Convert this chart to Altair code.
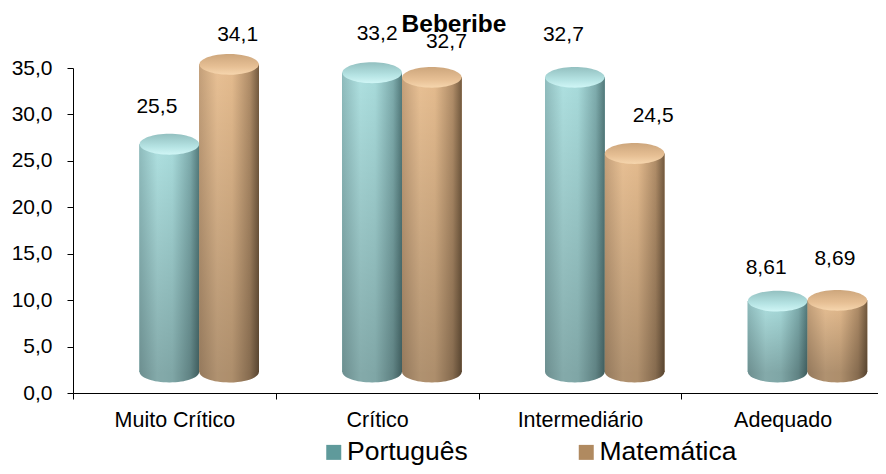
import altair as alt
import pandas as pd

categories = ["Muito Crítico", "Crítico", "Intermediário", "Adequado"]
series = ["Português", "Matemática"]
portugues = [25.5, 33.2, 32.7, 8.61]
matematica = [34.1, 32.7, 24.5, 8.69]
labels_pt = ["25,5", "33,2", "32,7", "8,61"]
labels_mt = ["34,1", "32,7", "24,5", "8,69"]
nudge_pt = [(-12.5, -49), (5, -51), (-11.5, -54), (-11.5, -45)]
nudge_mt = [(8.5, -41), (14.5, -47), (18.5, -49.5), (-2.5, -53)]

rows = []
for i, c in enumerate(categories):
    rows.append(dict(cat=c, s=series[0], v=portugues[i], label=labels_pt[i], base=0))
    rows.append(dict(cat=c, s=series[1], v=matematica[i], label=labels_mt[i], base=0))
df = pd.DataFrame(rows)

FONT = "Liberation Sans"
W, H = 805, 325
BAND_SPAN = 811
RISE = 12
BASE_RISE = 21
ELL = "M-1,0C-1,-0.19,-0.55,-0.35,0,-0.35C0.55,-0.35,1,-0.19,1,0C1,0.19,0.55,0.35,0,0.35C-0.55,0.35,-1,0.19,-1,0Z"


def grad(stops, vertical=False):
    return alt.Gradient(gradient="linear", x1=0, x2=0 if vertical else 1, y1=0, y2=1 if vertical else 0,
                        stops=[alt.GradientStop(offset=o, color=c) for o, c in stops])


sides = {
    "Português": [(0, "#8fbcbd"), (0.3, "#aee0e0"), (0.55, "#a8dbdb"), (0.85, "#7eacad"), (1, "#537a7b")],
    "Matemática": [(0, "#c4a07a"), (0.3, "#e8c094"), (0.55, "#e4bb8e"), (0.85, "#b08d68"), (1, "#735a3f")],
}
tops = {
    "Português": [(0, "#93c0c0"), (0.6, "#b4e2e2"), (1, "#d0f6f6")],
    "Matemática": [(0, "#cda67c"), (0.6, "#e6bf94"), (1, "#f6d6ae")],
}
shade = grad([(0, "rgba(0,0,0,0)"), (1, "rgba(0,0,0,0.24)")], vertical=True)

x = alt.X("cat:N", sort=categories, title=None,
          scale=alt.Scale(paddingInner=0, paddingOuter=0, range=[0, BAND_SPAN]),
          axis=alt.Axis(labelAngle=0, labelFont=FONT, labelFontSize=21.5, labelColor="#000",
                        domainColor="#000", tickColor="#000", tickBand="extent", tickSize=6,
                        labelPadding=10, grid=False))
xo = alt.XOffset("s:N", sort=series,
                 scale=alt.Scale(domain=series, range=[66.5, 186], paddingInner=0, paddingOuter=0))
yscale = alt.Scale(domain=[0, 35], nice=False)
yaxis = alt.Axis(values=[0, 5, 10, 15, 20, 25, 30, 35],
                 labelExpr="replace(format(datum.value,'.1f'),'.',',')",
                 labelFont=FONT, labelFontSize=21, labelColor="#000", domainColor="#000",
                 tickColor="#000", tickSize=6, grid=False, labelPadding=15)
y = alt.Y("v:Q", title=None, scale=yscale, axis=yaxis)
y0 = alt.Y("base:Q", title=None, scale=yscale, axis=yaxis)

base = alt.Chart(df).encode(x=x, xOffset=xo)

legend_bars = base.mark_bar(yOffset=-RISE, y2Offset=-BASE_RISE).encode(
    y=y, y2="base:Q",
    color=alt.Color("s:N", sort=series, title=None,
                    scale=alt.Scale(domain=series, range=["#5f9a9b", "#b08a60"]),
                    legend=alt.Legend(orient="none", legendX=247.5, legendY=371, direction="horizontal",
                                      columns=2, columnPadding=104.5, symbolType="square", symbolSize=225,
                                      labelFont=FONT, labelFontSize=26.5, labelColor="#000",
                                      symbolStrokeWidth=0, labelOffset=0)))

layers = [legend_bars]
for s in series:
    d = base.transform_filter(alt.datum.s == s)
    ell = dict(shape=ELL, size=3540, filled=True, strokeWidth=0)
    layers.append(d.mark_point(fill=grad(sides[s]), opacity=1, yOffset=-BASE_RISE, **ell).encode(y=y0))
    layers.append(d.mark_point(fill="#000", opacity=0.24, yOffset=-BASE_RISE, **ell).encode(y=y0))
    layers.append(d.mark_bar(fill=grad(sides[s]), yOffset=-RISE, y2Offset=-BASE_RISE).encode(y=y, y2="base:Q"))
    layers.append(d.mark_bar(fill=shade, yOffset=-RISE, y2Offset=-BASE_RISE).encode(y=y, y2="base:Q"))
    layers.append(d.mark_point(fill=grad(tops[s], vertical=True), opacity=1, yOffset=-RISE, **ell).encode(y=y))

for s, nudges in ((series[0], nudge_pt), (series[1], nudge_mt)):
    for c, (dx, dy) in zip(categories, nudges):
        layers.append(base.transform_filter((alt.datum.s == s) & (alt.datum.cat == c)).mark_text(
            font=FONT, fontSize=21, color="#000", dx=dx, dy=dy, baseline="middle", align="center"
        ).encode(y=y, text="label:N"))

chart = alt.layer(*layers).properties(
    width=W, height=H,
    autosize=alt.AutoSizeParams(type="none"),
    padding={"left": 65, "top": 60, "right": 0, "bottom": 73},
    title=alt.TitleParams("Beberibe", font=FONT, fontSize=24.5, fontWeight="bold", color="#000",
                          anchor="middle", dx=-21.5, offset=-15),
).configure_view(stroke=None)

chart.save("out.html", embed_options={"renderer": "svg", "actions": False})
